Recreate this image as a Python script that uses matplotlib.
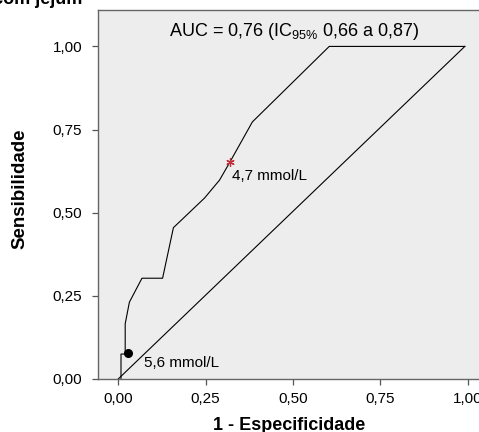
import matplotlib
matplotlib.use("Agg")
import matplotlib.pyplot as plt

plt.rcParams['font.family'] = ['Liberation Sans', 'DejaVu Sans']

# ROC curve
fpr = [0.008, 0.008, 0.020, 0.020, 0.032, 0.068, 0.127, 0.158, 0.247, 0.290, 0.319, 0.384, 0.604, 0.992]
tpr = [0.000, 0.075, 0.075, 0.166, 0.231, 0.303, 0.303, 0.455, 0.544, 0.598, 0.651, 0.773, 1.000, 1.000]
ref_x = [0.0, 0.992]
ref_y = [0.0, 1.0]

# cut-off points
cut_47 = (0.319, 0.651)
cut_56 = (0.027, 0.077)

ticks = [0.0, 0.25, 0.50, 0.75, 1.00]
tick_labels = ['0,00', '0,25', '0,50', '0,75', '1,00']

fig = plt.figure(figsize=(4.79, 4.32), dpi=100)
ax = fig.add_axes([0.2052, 0.1227, 0.8126, 0.853])
ax.set_facecolor('#ededed')

ax.plot(fpr, tpr, color='black', lw=0.8)
ax.plot(ref_x, ref_y, color='black', lw=0.8)
ax.plot(*cut_47, marker=(6, 2, 0), color='#c0303a', ms=6, mew=0.9)
ax.plot(*cut_56, marker='o', color='black', ms=5.5)

ax.text(0.327, 0.598, '4,7 mmol/L', fontsize=11, ha='left', va='baseline')
ax.text(0.074, 0.035, '5,6 mmol/L', fontsize=11, ha='left', va='baseline')
ax.text(0.505, 1.03, r'AUC = 0,76 (IC$_{\mathregular{95\%}}$ 0,66 a 0,87)',
        fontsize=13, ha='center', va='baseline')

ax.set_xlim(-0.057, 1.057)
ax.set_ylim(0, 1.108)
ax.set_xticks(ticks)
ax.set_xticklabels(tick_labels)
ax.set_yticks(ticks)
ax.set_yticklabels(tick_labels)
ax.tick_params(labelsize=11, length=4.5, width=0.9, color='#555555')
ax.tick_params(axis='y', pad=7)
ax.tick_params(axis='x', pad=5)
for s in ax.spines.values():
    s.set_color('#666666')
    s.set_linewidth(1.0)

ax.set_xlabel('1 - Especificidade', fontsize=13, fontweight='bold')
ax.xaxis.label.set_verticalalignment('baseline')
ax.xaxis.set_label_coords(0.49, -0.1395)
ax.set_ylabel('Sensibilidade', fontsize=13.5, fontweight='bold')
ax.yaxis.label.set_verticalalignment('center')
ax.yaxis.set_label_coords(-0.201, 0.515)

# title is cut off at the top of the original picture
fig.text(82 / 479, 1 - 4 / 432, 'Glicemia com jejum', fontsize=13,
         fontweight='bold', ha='right', va='baseline')

fig.savefig('out.png', dpi=100)
